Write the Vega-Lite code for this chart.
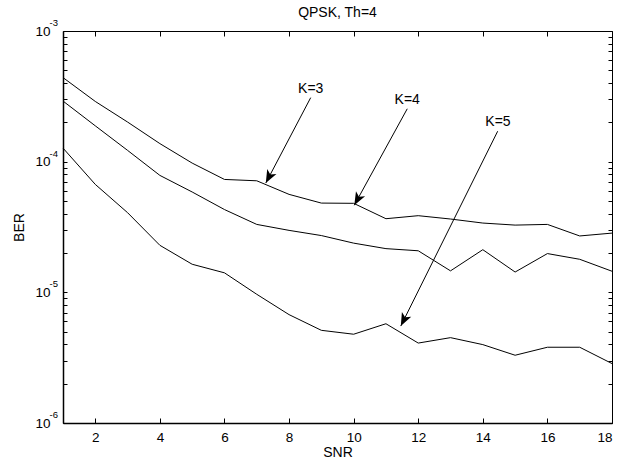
{
  "$schema": "https://vega.github.io/schema/vega-lite/v6.json",
  "width": 549,
  "height": 392,
  "autosize": {"type": "none"},
  "padding": {"left": 63, "top": 31, "right": 8, "bottom": 42},
  "background": "white",
  "title": {"text": "QPSK, Th=4", "font": "Liberation Sans", "fontSize": 14, "fontWeight": "normal", "color": "black", "offset": -2},
  "config": {
    "view": {"stroke": "black", "strokeWidth": 1},
    "axis": {"domainColor": "black", "tickColor": "black", "labelColor": "black", "titleColor": "black", "labelFont": "Liberation Sans", "titleFont": "Liberation Sans", "titleFontWeight": "normal", "labelFontSize": 13.5, "titleFontSize": 14, "grid": false, "domainWidth": 1.5}
  },
  "datasets": {
    "curves": [
      {"SNR": 1, "BER": 4.40e-4, "K": "3"}, {"SNR": 2, "BER": 2.89e-4, "K": "3"}, {"SNR": 3, "BER": 2.01e-4, "K": "3"}, {"SNR": 4, "BER": 1.375e-4, "K": "3"}, {"SNR": 5, "BER": 9.75e-5, "K": "3"}, {"SNR": 6, "BER": 7.31e-5, "K": "3"}, {"SNR": 7, "BER": 7.14e-5, "K": "3"}, {"SNR": 8, "BER": 5.62e-5, "K": "3"}, {"SNR": 9, "BER": 4.82e-5, "K": "3"}, {"SNR": 10, "BER": 4.80e-5, "K": "3"}, {"SNR": 11, "BER": 3.66e-5, "K": "3"}, {"SNR": 12, "BER": 3.86e-5, "K": "3"}, {"SNR": 13, "BER": 3.64e-5, "K": "3"}, {"SNR": 14, "BER": 3.39e-5, "K": "3"}, {"SNR": 15, "BER": 3.27e-5, "K": "3"}, {"SNR": 16, "BER": 3.31e-5, "K": "3"}, {"SNR": 17, "BER": 2.70e-5, "K": "3"}, {"SNR": 18, "BER": 2.84e-5, "K": "3"},
      {"SNR": 1, "BER": 2.91e-4, "K": "4"}, {"SNR": 2, "BER": 1.88e-4, "K": "4"}, {"SNR": 3, "BER": 1.22e-4, "K": "4"}, {"SNR": 4, "BER": 7.85e-5, "K": "4"}, {"SNR": 5, "BER": 5.86e-5, "K": "4"}, {"SNR": 6, "BER": 4.30e-5, "K": "4"}, {"SNR": 7, "BER": 3.31e-5, "K": "4"}, {"SNR": 8, "BER": 2.98e-5, "K": "4"}, {"SNR": 9, "BER": 2.72e-5, "K": "4"}, {"SNR": 10, "BER": 2.38e-5, "K": "4"}, {"SNR": 11, "BER": 2.16e-5, "K": "4"}, {"SNR": 12, "BER": 2.08e-5, "K": "4"}, {"SNR": 13, "BER": 1.46e-5, "K": "4"}, {"SNR": 14, "BER": 2.12e-5, "K": "4"}, {"SNR": 15, "BER": 1.43e-5, "K": "4"}, {"SNR": 16, "BER": 1.98e-5, "K": "4"}, {"SNR": 17, "BER": 1.79e-5, "K": "4"}, {"SNR": 18, "BER": 1.45e-5, "K": "4"},
      {"SNR": 1, "BER": 1.27e-4, "K": "5"}, {"SNR": 2, "BER": 6.70e-5, "K": "5"}, {"SNR": 3, "BER": 4.07e-5, "K": "5"}, {"SNR": 4, "BER": 2.29e-5, "K": "5"}, {"SNR": 5, "BER": 1.64e-5, "K": "5"}, {"SNR": 6, "BER": 1.41e-5, "K": "5"}, {"SNR": 7, "BER": 9.66e-6, "K": "5"}, {"SNR": 8, "BER": 6.75e-6, "K": "5"}, {"SNR": 9, "BER": 5.12e-6, "K": "5"}, {"SNR": 10, "BER": 4.78e-6, "K": "5"}, {"SNR": 11, "BER": 5.75e-6, "K": "5"}, {"SNR": 12, "BER": 4.09e-6, "K": "5"}, {"SNR": 13, "BER": 4.50e-6, "K": "5"}, {"SNR": 14, "BER": 3.98e-6, "K": "5"}, {"SNR": 15, "BER": 3.30e-6, "K": "5"}, {"SNR": 16, "BER": 3.80e-6, "K": "5"}, {"SNR": 17, "BER": 3.80e-6, "K": "5"}, {"SNR": 18, "BER": 2.85e-6, "K": "5"}
    ],
    "arrows": [
      {"label": "K=3", "tx": 8.67, "ty": 3.57e-4, "x1": 8.67, "y1": 3.09e-4, "x2": 7.28, "y2": 6.86e-5},
      {"label": "K=4", "tx": 11.66, "ty": 2.94e-4, "x1": 11.66, "y1": 2.54e-4, "x2": 10.02, "y2": 4.64e-5},
      {"label": "K=5", "tx": 14.47, "ty": 2.00e-4, "x1": 14.46, "y1": 1.71e-4, "x2": 11.46, "y2": 5.52e-6}
    ],
    "decades": [
      {"BER": 1e-3, "exp": "-3"}, {"BER": 1e-4, "exp": "-4"}, {"BER": 1e-5, "exp": "-5"}, {"BER": 1e-6, "exp": "-6"}
    ]
  },
  "layer": [
    {
      "data": {"name": "curves"},
      "mark": {"type": "line", "color": "black", "strokeWidth": 1},
      "encoding": {
        "x": {"field": "SNR", "type": "quantitative", "scale": {"domain": [1, 18], "nice": false, "zero": false},
          "axis": {"title": "SNR", "values": [2, 4, 6, 8, 10, 12, 14, 16, 18], "tickSize": -5, "labelPadding": 12, "titlePadding": 2, "orient": "bottom"}},
        "y": {"field": "BER", "type": "quantitative", "scale": {"type": "log", "domain": [1e-6, 1e-3], "nice": false},
          "axis": {"title": "BER", "orient": "left", "tickSize": -4, "labelPadding": 17, "titlePadding": 8,
            "values": [1e-6, 2e-6, 3e-6, 4e-6, 5e-6, 6e-6, 7e-6, 8e-6, 9e-6, 1e-5, 2e-5, 3e-5, 4e-5, 5e-5, 6e-5, 7e-5, 8e-5, 9e-5, 1e-4, 2e-4, 3e-4, 4e-4, 5e-4, 6e-4, 7e-4, 8e-4, 9e-4, 1e-3],
            "labelExpr": "(datum.value == 0.001 || datum.value == 0.0001 || datum.value == 0.00001 || datum.value == 0.000001) ? '10' : ''"}},
        "detail": {"field": "K", "type": "nominal"}
      }
    },
    {
      "data": {"name": "decades"},
      "mark": {"type": "text", "font": "Liberation Sans", "fontSize": 9.5, "color": "black", "align": "right", "baseline": "middle", "dx": -5, "dy": -8},
      "encoding": {
        "x": {"datum": 1, "type": "quantitative", "axis": null},
        "y": {"field": "BER", "type": "quantitative", "axis": null},
        "text": {"field": "exp"}
      }
    },
    {
      "data": {"name": "arrows"},
      "mark": {"type": "rule", "color": "black", "strokeWidth": 1},
      "encoding": {
        "x": {"field": "x1", "type": "quantitative", "axis": {"orient": "top", "title": null, "labels": false, "values": [2, 4, 6, 8, 10, 12, 14, 16, 18], "tickSize": -5, "domain": false}},
        "y": {"field": "y1", "type": "quantitative", "axis": {"orient": "right", "title": null, "labels": false, "tickSize": -4, "domain": false,
          "values": [1e-6, 2e-6, 3e-6, 4e-6, 5e-6, 6e-6, 7e-6, 8e-6, 9e-6, 1e-5, 2e-5, 3e-5, 4e-5, 5e-5, 6e-5, 7e-5, 8e-5, 9e-5, 1e-4, 2e-4, 3e-4, 4e-4, 5e-4, 6e-4, 7e-4, 8e-4, 9e-4, 1e-3]}},
        "x2": {"field": "x2"},
        "y2": {"field": "y2"}
      }
    },
    {
      "data": {"name": "arrows"},
      "mark": {"type": "text", "font": "Liberation Sans", "fontSize": 14, "color": "black", "align": "center", "baseline": "middle"},
      "encoding": {
        "x": {"field": "tx", "type": "quantitative", "axis": null},
        "y": {"field": "ty", "type": "quantitative", "axis": null},
        "text": {"field": "label"}
      }
    },
    {
      "data": {"name": "arrows"},
      "transform": [{"filter": "datum.label == 'K=3'"}],
      "mark": {"type": "point", "filled": true, "color": "black", "opacity": 1, "strokeWidth": 0, "size": 676, "angle": 207.6, "shape": "M0,0L0.4,1L0,0.75L-0.4,1Z"},
      "encoding": {
        "x": {"field": "x2", "type": "quantitative", "axis": null},
        "y": {"field": "y2", "type": "quantitative", "axis": null}
      }
    },
    {
      "data": {"name": "arrows"},
      "transform": [{"filter": "datum.label == 'K=4'"}],
      "mark": {"type": "point", "filled": true, "color": "black", "opacity": 1, "strokeWidth": 0, "size": 676, "angle": 208.7, "shape": "M0,0L0.4,1L0,0.75L-0.4,1Z"},
      "encoding": {
        "x": {"field": "x2", "type": "quantitative", "axis": null},
        "y": {"field": "y2", "type": "quantitative", "axis": null}
      }
    },
    {
      "data": {"name": "arrows"},
      "transform": [{"filter": "datum.label == 'K=5'"}],
      "mark": {"type": "point", "filled": true, "color": "black", "opacity": 1, "strokeWidth": 0, "size": 676, "angle": 206.4, "shape": "M0,0L0.4,1L0,0.75L-0.4,1Z"},
      "encoding": {
        "x": {"field": "x2", "type": "quantitative", "axis": null},
        "y": {"field": "y2", "type": "quantitative", "axis": null}
      }
    }
  ],
  "resolve": {"axis": {"x": "independent", "y": "independent"}}
}
